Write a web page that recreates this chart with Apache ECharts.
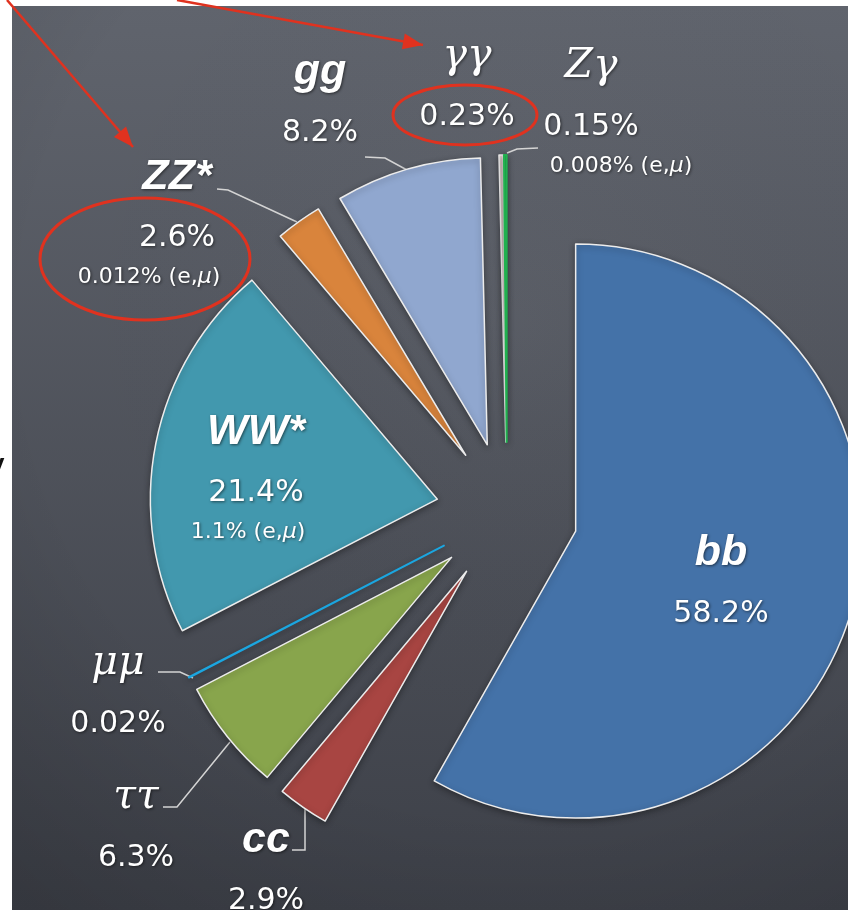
<!DOCTYPE html>
<html>
<head>
<meta charset="utf-8">
<script src="https://cdn.jsdelivr.net/npm/echarts@6/dist/echarts.min.js"></script>
<style>
html, body { margin: 0; padding: 0; background: #fff; }
#chart { width: 848px; height: 910px; }
</style>
</head>
<body>
<div id="chart"></div>
<script>
// Higgs branching ratios, clockwise from 12 o'clock
var names = ["bb", "cc", "ττ", "μμ", "WW*", "ZZ*", "gg", "γγ", "Zγ"];
var shares = [58.2, 2.9, 6.3, 0.02, 21.4, 2.6, 8.2, 0.23, 0.15];
var leptonic = ["", "", "", "", "1.1%", "0.012%", "", "", "0.008%"];

var colors = ["#4472a8", "#a84542", "#88a54c", "#1ba6e0", "#4298ae", "#d9843c", "#90a7cf", "#ead6d6", "#21b04f"];

// label placement (x, centre of the name line) and leader lines, in page pixels
var labelAt = [[721, 553], [266, 840], [136, 797], [118, 663], [256, 432], [177, 177], [320, 72], [467, 56], [591, 66]];
var smallShift = [0, 0, 0, 0, -8, -28, 0, 0, 30];
var leaders = [
	null,
	[[305, 808], [305, 850], [292, 850]],
	[[230, 742], [177, 807], [163, 807]],
	[[193, 678], [180, 672], [158, 672]],
	null,
	[[297, 222], [228, 190], [217, 189]],
	[[407, 170], [385, 158], [365, 157]],
	null,
	[[507, 153], [517, 149], [538, 148]]
];

var pieCenter = [507, 513];
var pieRadius = 287;
var explode = 71;
var red = "#e0321f";

var chart = echarts.init(document.getElementById("chart"));

// every slice is pulled out along its own bisector by the same distance
var total = shares.reduce(function (a, b) { return a + b; }, 0);
var shift = [];
var acc = 0;
shares.forEach(function (v) {
	var mid = (acc + v / 2) / total * Math.PI * 2;
	shift.push([explode * Math.sin(mid), -explode * Math.cos(mid)]);
	acc += v;
});

function arrowHead(tail, tip, len, half) {
	var dx = tip[0] - tail[0], dy = tip[1] - tail[1];
	var d = Math.sqrt(dx * dx + dy * dy);
	var ux = dx / d, uy = dy / d;
	var bx = tip[0] - ux * len, by = tip[1] - uy * len;
	return [tip, [bx - uy * half, by + ux * half], [bx + uy * half, by - ux * half]];
}

var arrows = [
	[[7, 0], [133, 147]],
	[[177, 0], [423, 45]]
];

var textShadow = {
	textShadowColor: "rgba(0,0,0,0.55)",
	textShadowBlur: 3,
	textShadowOffsetX: 1,
	textShadowOffsetY: 1
};

function txt(extra) {
	return Object.assign({ color: "#fff" }, textShadow, extra);
}

var richStyles = {
	name: txt({ fontFamily: "Liberation Sans", fontStyle: "italic", fontWeight: "bold", fontSize: 43, lineHeight: 60 }),
	greek: txt({ fontFamily: "DejaVu Serif", fontStyle: "italic", fontSize: 41, lineHeight: 60 }),
	pct: txt({ fontFamily: "DejaVu Sans", fontSize: 30, lineHeight: 62 })
};

function labelText(i) {
	var greek = /[γμτ]/.test(names[i]);
	var s = "{" + (greek ? "greek" : "name") + "|" + names[i] + "}\n{pct|" + shares[i] + "%}";
	if (leptonic[i]) s += "\n{smallA|" + leptonic[i] + " (e,}{mu|μ}{smallB|)}";
	return s;
}

// one pie per slice: same data, only slice i painted, centre moved out
var series = names.map(function (n, i) {
	var s = smallShift[i];
	var itemStyle = { color: colors[i] };
	// hairline slices: stroke in their own colour
	if (shares[i] < 0.2) {
		itemStyle.borderColor = colors[i];
		itemStyle.borderWidth = 2;
	}
	var small = { fontFamily: "DejaVu Sans", fontSize: 22, lineHeight: 16 };
	var data = names.map(function (m, j) {
		if (j !== i) {
			return {
				name: m,
				value: shares[j],
				itemStyle: { color: "rgba(0,0,0,0)", borderWidth: 0, shadowBlur: 0 },
				label: { show: false },
				labelLine: { show: false }
			};
		}
		return {
			name: m,
			value: shares[j],
			itemStyle: itemStyle,
			label: {
				show: true,
				position: "outside",
				formatter: labelText(i),
				rich: Object.assign({}, richStyles, {
					smallA: txt(Object.assign({ padding: [0, 0, 0, s > 0 ? 2 * s : 0] }, small)),
					mu: txt(Object.assign({ fontStyle: "italic" }, small)),
					smallB: txt(Object.assign({ padding: [0, s < 0 ? -2 * s : 0, 0, 0] }, small))
				})
			},
			labelLine: {
				show: !!leaders[i],
				lineStyle: { color: "#d4d4d4", width: 1.5 }
			}
		};
	});
	return {
		type: "pie",
		name: n,
		center: [pieCenter[0] + shift[i][0], pieCenter[1] + shift[i][1]],
		radius: pieRadius,
		startAngle: 90,
		clockwise: true,
		avoidLabelOverlap: false,
		silent: true,
		emphasis: { disabled: true },
		itemStyle: {
			borderColor: "#ececec",
			borderWidth: 1.5,
			shadowBlur: 6,
			shadowColor: "rgba(0,0,0,0.35)",
			shadowOffsetY: 2
		},
		labelLayout: function () {
			var out = {
				x: labelAt[i][0],
				y: labelAt[i][1] - 30,
				align: "center",
				verticalAlign: "top"
			};
			if (leaders[i]) out.labelLinePoints = leaders[i];
			return out;
		},
		data: data
	};
});

var graphics = [
	{
		type: "rect",
		z: -10,
		silent: true,
		shape: { x: 12, y: 6, width: 836, height: 904 },
		style: {
			fill: {
				type: "linear", x: 0, y: 0, x2: 0, y2: 1,
				colorStops: [
					{ offset: 0, color: "#60646d" },
					{ offset: 1, color: "#3d4048" }
				]
			}
		}
	},
	{
		type: "rect",
		z: -9,
		silent: true,
		shape: { x: 12, y: 6, width: 836, height: 904 },
		style: {
			fill: {
				type: "radial", x: 0.6, y: 0.35, r: 0.9,
				colorStops: [
					{ offset: 0, color: "rgba(255,255,255,0.03)" },
					{ offset: 0.65, color: "rgba(0,0,0,0)" },
					{ offset: 1, color: "rgba(0,0,0,0.14)" }
				]
			}
		}
	},
	{
		type: "text",
		z: 100,
		style: { text: "y", x: -10, y: 452, font: "bold 26px 'Liberation Sans'", fill: "#111" }
	},
	{
		type: "ellipse",
		z: 100,
		shape: { cx: 465, cy: 115, rx: 72, ry: 30 },
		style: { fill: "none", stroke: red, lineWidth: 3 }
	},
	{
		type: "ellipse",
		z: 100,
		shape: { cx: 145, cy: 259, rx: 105, ry: 61 },
		style: { fill: "none", stroke: red, lineWidth: 3 }
	}
];

arrows.forEach(function (a) {
	graphics.push({
		type: "line",
		z: 100,
		shape: { x1: a[0][0], y1: a[0][1], x2: a[1][0], y2: a[1][1] },
		style: { stroke: red, lineWidth: 2.5 }
	});
	graphics.push({
		type: "polygon",
		z: 100,
		shape: { points: arrowHead(a[0], a[1], 20, 8) },
		style: { fill: red }
	});
});

chart.setOption({
	animation: false,
	graphic: graphics,
	series: series
});
</script>
</body>
</html>
